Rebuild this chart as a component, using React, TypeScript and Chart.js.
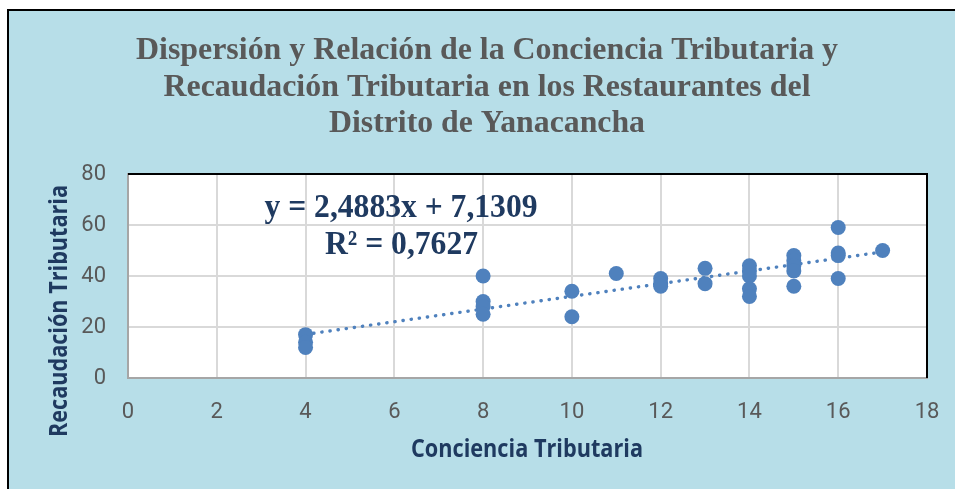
import React, { useEffect, useRef } from "react";
import { Chart, registerables } from "chart.js";

Chart.register(...registerables);

// ---- Data ----
const TITLE_LINES = [
  "Dispersión y Relación de la Conciencia Tributaria y",
  "Recaudación Tributaria en los Restaurantes del",
  "Distrito de Yanacancha",
];
const X_TITLE = "Conciencia Tributaria";
const Y_TITLE = "Recaudación Tributaria";
const EQUATION_LINES = ["y = 2,4883x + 7,1309", "R² = 0,7627"];
const SLOPE = 2.4883;
const INTERCEPT = 7.1309;
const TREND_X = [4, 17];

const concienciaTributaria = [
  4, 4, 4, 8, 8, 8, 8, 10, 10, 11, 12, 12, 12, 13, 13, 14, 14, 14, 14, 14, 15, 15, 15, 15, 15, 16, 16, 16, 16, 17,
];
const recaudacionTributaria = [
  17, 14, 12, 40, 30, 28, 25, 34, 24, 41, 39, 37, 36, 43, 37, 44, 42, 40, 35, 32, 48, 46, 44, 42, 36, 59, 49, 48, 39, 50,
];

const X_MIN = 0;
const X_MAX = 18;
const X_STEP = 2;
const Y_MIN = 0;
const Y_MAX = 80;
const Y_STEP = 20;

// ---- Styles ----
const BG = "#B7DEE8";
const POINT_COLOR = "#4F81BD";
const TITLE_COLOR = "#595959";
const EQ_COLOR = "#1F3A60";
const AXIS_TITLE_COLOR = "#1F3A60";
const TICK_COLOR = "#595959";

const W = 955;
const H = 489;

function fitText(
  ctx: CanvasRenderingContext2D,
  text: string,
  cx: number,
  baseline: number,
  width: number,
  font: string,
  color: string,
  rotate = false
) {
  ctx.save();
  ctx.font = font;
  ctx.fillStyle = color;
  ctx.textAlign = "center";
  ctx.textBaseline = "alphabetic";
  const w = ctx.measureText(text).width;
  ctx.translate(cx, baseline);
  if (rotate) ctx.rotate(-Math.PI / 2);
  ctx.scale(width / w, 1);
  ctx.fillText(text, 0, 0);
  ctx.restore();
}

const decorPlugin = {
  id: "decor",
  beforeDraw(chart: any) {
    const { ctx, chartArea } = chart;
    ctx.save();
    ctx.fillStyle = "#FFFFFF";
    ctx.fillRect(chartArea.left, chartArea.top, chartArea.right - chartArea.left, chartArea.bottom - chartArea.top);
    ctx.restore();
  },
  afterDatasetsDraw(chart: any) {
    const { ctx, chartArea } = chart;
    ctx.save();
    ctx.strokeStyle = "#000000";
    ctx.lineWidth = 2;
    ctx.beginPath();
    ctx.moveTo(chartArea.left, chartArea.top);
    ctx.lineTo(chartArea.right, chartArea.top);
    ctx.lineTo(chartArea.right, chartArea.bottom);
    ctx.stroke();
    ctx.restore();

    // Title
    const tFont = "bold 32px 'Liberation Serif', 'Times New Roman', serif";
    fitText(ctx, TITLE_LINES[0], 487, 59, 702, tFont, TITLE_COLOR);
    fitText(ctx, TITLE_LINES[1], 487, 96, 647, tFont, TITLE_COLOR);
    fitText(ctx, TITLE_LINES[2], 487, 132, 316, tFont, TITLE_COLOR);

    // Equation
    const eFont = "bold 34px 'Liberation Serif', 'Times New Roman', serif";
    fitText(ctx, EQUATION_LINES[0], 401, 217, 273, eFont, EQ_COLOR);
    fitText(ctx, EQUATION_LINES[1], 401.5, 254, 153, eFont, EQ_COLOR);

    // Axis titles
    const aFont = "bold 25px 'Open Sans', sans-serif";
    fitText(ctx, X_TITLE, 527, 457, 232, aFont, AXIS_TITLE_COLOR);
    fitText(ctx, Y_TITLE, 67, 311, 252, aFont, AXIS_TITLE_COLOR, true);
  },
};

export default function App() {
  const canvasRef = useRef<HTMLCanvasElement | null>(null);

  useEffect(() => {
    const canvas = canvasRef.current;
    if (!canvas) return;
    const points = concienciaTributaria.map((x, i) => ({ x, y: recaudacionTributaria[i] }));
    const trend = TREND_X.map((x) => ({ x, y: SLOPE * x + INTERCEPT }));

    const chart = new Chart(canvas, {
      type: "scatter",
      data: {
        datasets: [
          {
            type: "scatter",
            label: "Datos",
            data: points,
            pointRadius: 7.5,
            pointHoverRadius: 7.5,
            pointBackgroundColor: POINT_COLOR,
            pointBorderColor: POINT_COLOR,
            pointBorderWidth: 0,
            order: 0,
          } as any,
          {
            type: "line",
            label: "Tendencia",
            data: trend,
            borderColor: POINT_COLOR,
            borderWidth: 3.4,
            borderDash: [0.3, 7.9],
            borderCapStyle: "round",
            pointRadius: 0,
            fill: false,
            showLine: true,
            order: 1,
          } as any,
        ],
      },
      options: {
        responsive: false,
        animation: false,
        devicePixelRatio: 1,
        layout: { padding: { left: 0, right: 28, top: 174, bottom: 0 } },
        plugins: {
          legend: { display: false },
          title: { display: false },
          tooltip: { enabled: false },
        },
        scales: {
          x: {
            type: "linear",
            min: X_MIN,
            max: X_MAX,
            ticks: {
              stepSize: X_STEP,
              color: TICK_COLOR,
              font: { family: "Roboto", size: 22 },
              padding: 21,
            },
            grid: { color: "#D9D9D9", lineWidth: 2, drawTicks: false },
            border: { display: true, color: "#A6A6A6", width: 2 },
            afterFit: (scale: any) => {
              scale.height = H - 378;
              scale.paddingLeft = 0;
              scale.paddingRight = 0;
            },
          },
          y: {
            type: "linear",
            min: Y_MIN,
            max: Y_MAX,
            ticks: {
              stepSize: Y_STEP,
              color: TICK_COLOR,
              font: { family: "Roboto", size: 22 },
              padding: 22,
            },
            grid: { color: "#D9D9D9", lineWidth: 2, drawTicks: false },
            border: { display: true, color: "#A6A6A6", width: 2 },
            afterFit: (scale: any) => {
              scale.width = 128;
              scale.paddingTop = 0;
              scale.paddingBottom = 0;
            },
          },
        },
      },
      plugins: [decorPlugin],
    });

    return () => {
      chart.destroy();
    };
  }, []);

  return (
    <div
      style={{
        position: "fixed",
        left: 0,
        top: 0,
        width: W,
        height: H,
        overflow: "hidden",
        background: "#FFFFFF",
      }}
    >
      <div
        style={{
          position: "absolute",
          left: 7,
          top: 9,
          width: 1000,
          height: 520,
          border: "2px solid #000000",
          background: BG,
        }}
      />
      <canvas
        ref={canvasRef}
        width={W}
        height={H}
        style={{ position: "absolute", left: 0, top: 0, width: W, height: H }}
      />
    </div>
  );
}
